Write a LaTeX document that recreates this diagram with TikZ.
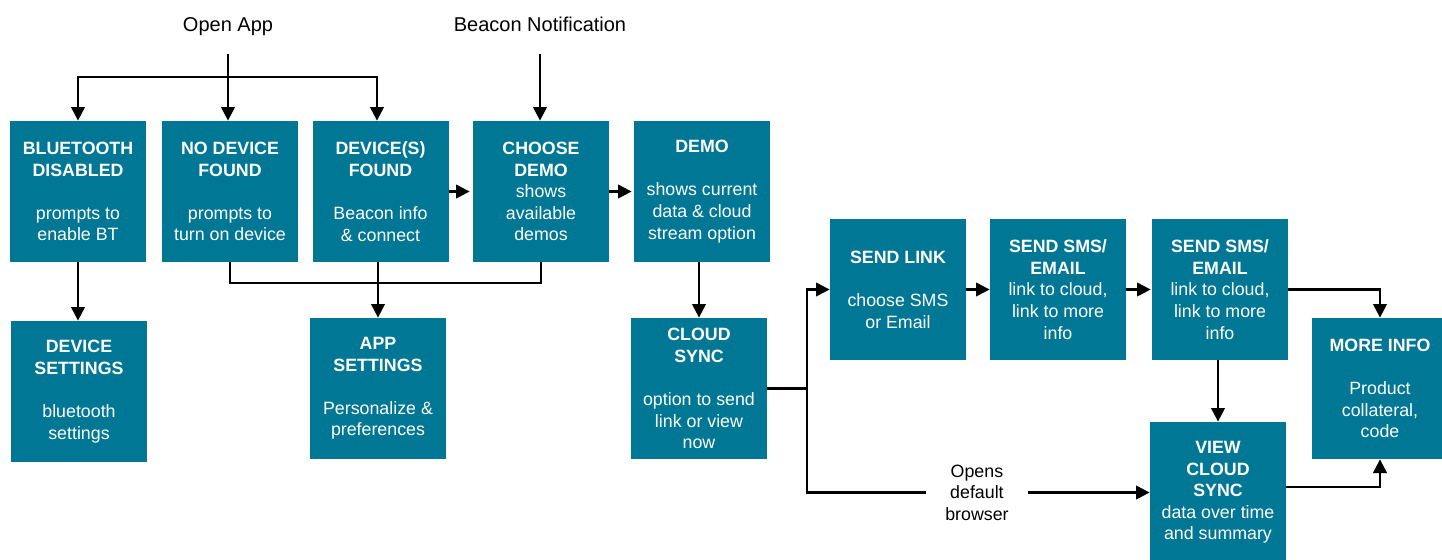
\documentclass[tikz,border=0pt]{standalone}
\usepackage{fontspec}
\setmainfont{Liberation Sans}
\usetikzlibrary{positioning,arrows.meta}
\tikzset{
  >={Triangle[length=6.8pt,width=6.8pt]},
  screen/.style ={fill=screenteal, text=white, minimum width=68pt, minimum height=70.5pt,
                  inner sep=0pt, align=center, font=\fontsize{8.9}{10.8}\selectfont},
  flow/.style   ={line width=1.1pt, ->},
  link/.style   ={line width=1.1pt},
  trigger/.style={font=\fontsize{10}{12}\selectfont, text height=7.5pt, text depth=2.2pt},
}
\definecolor{screenteal}{RGB}{0,119,148}

\begin{document}
\begin{tikzpicture}[x=0.5pt,y=-0.5pt]
  \useasboundingbox (0,0) rectangle (1442,559);

  % entry points
  \node[trigger] (openapp) at (228,26) {Open App};
  \node[trigger] (beacon) at (540,26) {Beacon Notification};

  % first row
  \node[screen] (bt) at (78,191.5) {\textbf{BLUETOOTH}\\\textbf{DISABLED}\\[10.8pt]prompts to\\enable BT};
  \node[screen] (nodev) at (230,191.5) {\textbf{NO DEVICE}\\\textbf{FOUND}\\[10.8pt]prompts to\\turn on device};
  \node[screen] (devf) at (380.5,191.5) {\textbf{DEVICE(S)}\\\textbf{FOUND}\\[10.8pt]Beacon info\\\& connect};
  \node[screen] (choose) at (541,191.5) {\textbf{CHOOSE}\\\textbf{DEMO}\\shows\\available\\demos};
  \node[screen] (demo) at (702,191.5) {\textbf{DEMO}\\[10.8pt]shows current\\data \& cloud\\stream option};

  % second row
  \node[screen] (devset) at (79,391.5) {\textbf{DEVICE}\\\textbf{SETTINGS}\\[10.8pt]bluetooth\\settings};
  \node[screen] (appset) at (378,388.5) {\textbf{APP}\\\textbf{SETTINGS}\\[10.8pt]Personalize \&\\preferences};
  \node[screen] (cloud) at (699,388.5) {\textbf{CLOUD}\\\textbf{SYNC}\\[10.8pt]option to send\\link or view\\now};

  % sharing branch
  \node[screen] (sendlink) at (898,289.5) {\textbf{SEND LINK}\\[10.8pt]choose SMS\\or Email};
  \node[screen] (sms1) at (1058,289.5) {\textbf{SEND SMS/}\\\textbf{EMAIL}\\link to cloud,\\link to more\\info};
  \node[screen] (sms2) at (1220,289.5) {\textbf{SEND SMS/}\\\textbf{EMAIL}\\link to cloud,\\link to more\\info};
  \node[screen] (view) at (1218,492.5) {\textbf{VIEW}\\\textbf{CLOUD}\\\textbf{SYNC}\\data over time\\and summary};
  \node[screen] (more) at (1380,388.5) {\textbf{MORE INFO}\\[10.8pt]Product\\collateral,\\code};

  % open app fan-out
  \coordinate (split) at (228,77);
  \draw[flow, shorten <=5.5pt] (openapp.south) -- (openapp.south |- nodev.north);
  \draw[flow] (split) -| (bt.north);
  \draw[flow] (split) -| ([xshift=-1.75pt]devf.north);
  \draw[flow, shorten <=5.5pt] (beacon.south) -- (beacon.south |- choose.north);

  % first row links
  \draw[flow, shorten >=1.5pt] (devf) -- (choose);
  \draw[flow, shorten >=1pt] (choose) -- (demo);
  \draw[flow] (bt.south) -- (bt.south |- devset.north);
  \coordinate (join) at (378,283);
  \draw[link] (nodev.south) |- (join) -| (choose.south);
  \draw[flow] (devf.south -| appset.north) -- (appset.north);
  \draw[flow] (demo.south -| cloud.north) -- (cloud.north);

  % cloud sync fork
  \coordinate (fork) at (807,388.5);
  \draw[link] (cloud.east) -- (fork);
  \draw[flow] (fork) |- (sendlink.west);
  \draw[flow] (fork) |- node[pos=0.748, fill=white, inner xsep=9.5pt, inner ysep=0pt, align=center,
      font=\fontsize{8.9}{10.8}\selectfont] (browser) {Opens\\default\\browser} (view.west);

  % sharing links
  \draw[flow] (sendlink) -- (sms1);
  \draw[flow, shorten >=0.5pt] (sms1) -- (sms2);
  \draw[flow] (sms2.east) -| (more.north);
  \draw[flow] (sms2.south -| view.north) -- (view.north);
  \draw[flow] ([yshift=2.75pt]view.east) -| (more.south);
\end{tikzpicture}
\end{document}
